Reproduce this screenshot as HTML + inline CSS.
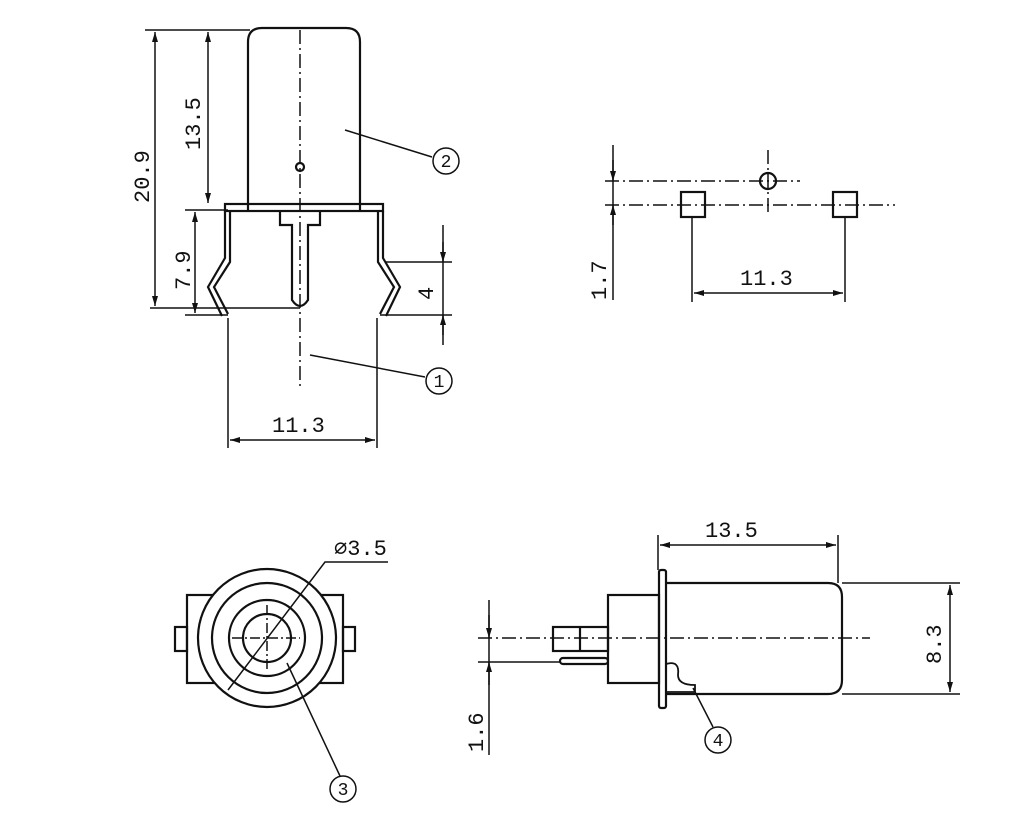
<!DOCTYPE html>
<html><head><style>body{margin:0;background:#fff}svg{display:block}text{font-family:"Liberation Mono","DejaVu Sans Mono",monospace;fill:#111}</style></head>
<body>
<svg width="1024" height="827" viewBox="0 0 1024 827" xmlns="http://www.w3.org/2000/svg">
<defs><marker id="a" markerWidth="10" markerHeight="6" refX="10" refY="3" orient="auto-start-reverse" markerUnits="userSpaceOnUse"><path d="M0,0 L10,3 L0,6z" fill="#111"/></marker></defs>
<g stroke="#111" stroke-width="1.5" fill="none">
<!-- top-left view -->
<path d="M248,210 V42 Q248,28 262,28 H346 Q360,28 360,42 V210" stroke-width="2.2"/>
<rect x="225" y="204" width="158" height="7" stroke-width="2.2"/>
<path d="M230,211 V262 L214,287 L228,314 M225,211 V258 L208,287 L222,316" stroke-width="2.2"/>
<path d="M378,211 V262 L394,287 L380,314 M383,211 V258 L400,287 L386,316" stroke-width="2.2"/>
<path d="M280,211 V225 H292 V300 Q300,312 308,300 V225 H320 V211" stroke-width="2.2"/>
<circle cx="300" cy="167" r="4" stroke-width="2.2"/>
<path d="M300,30 V390" stroke-dasharray="14,4,2,4"/>
<path d="M145,30 H250 M150,308 H300 M185,210 H228 M185,315 H228 M385,262 H452 M380,315 H452"/>
<path d="M155,32 V306" marker-start="url(#a)" marker-end="url(#a)"/>
<path d="M208,32 V203" marker-start="url(#a)" marker-end="url(#a)"/>
<path d="M195,212 V313" marker-start="url(#a)" marker-end="url(#a)"/>
<path d="M443,225 V262 M443,315 V345"/>
<path d="M443,242 V262" marker-end="url(#a)"/><path d="M443,335 V315" marker-end="url(#a)"/>
<path d="M443,262 V315"/>
<path d="M228,318 V448 M377,318 V448"/>
<path d="M230,440 H375" marker-start="url(#a)" marker-end="url(#a)"/>
<path d="M345,130 L432,157 M310,355 L425,377"/>
<circle cx="446" cy="161" r="13"/><circle cx="439" cy="381" r="13"/>
<!-- top-right view -->
<path d="M605,205 H895 M605,181 H800" stroke-dasharray="14,4,2,4"/>
<path d="M768,150 V215" stroke-dasharray="14,4,2,4"/>
<circle cx="768" cy="181" r="8" stroke-width="2.2"/>
<rect x="681" y="192" width="24" height="25" stroke-width="2.2"/>
<rect x="833" y="192" width="24" height="25" stroke-width="2.2"/>
<path d="M692,217 V302 M845,217 V302 M613,145 V300"/>
<path d="M613,160 V181" marker-end="url(#a)"/><path d="M613,225 V205" marker-end="url(#a)"/>
<path d="M694,293 H843" marker-start="url(#a)" marker-end="url(#a)"/>
<!-- bottom-left view -->
<rect x="187" y="595" width="156" height="88" stroke-width="2.2" fill="#fff"/>
<rect x="175" y="627" width="12" height="24" stroke-width="2.2"/>
<rect x="343" y="627" width="12" height="24" stroke-width="2.2"/>
<circle cx="267" cy="638" r="69" stroke-width="2.2" fill="#fff"/>
<circle cx="267" cy="638" r="55" stroke-width="2.2"/>
<circle cx="267" cy="638" r="38" stroke-width="2.2"/>
<circle cx="267" cy="638" r="24" stroke-width="2.2"/>
<path d="M232,638 H300 M267,605 V672" stroke-dasharray="10,3,2,3"/>
<path d="M228,690 L325,562 H388"/>
<path d="M287,663 L340,776"/>
<circle cx="343" cy="789" r="13"/>
<!-- bottom-right view -->
<path d="M665,583 H828 Q842,583 842,597 V680 Q842,694 828,694 H665" stroke-width="2.2"/>
<rect x="659" y="570" width="7" height="138" rx="2" stroke-width="2.2"/>
<rect x="608" y="595" width="51" height="88" stroke-width="2.2"/>
<rect x="553" y="627" width="55" height="24" stroke-width="2.2"/>
<path d="M580,627 V651" stroke-width="2.2"/>
<rect x="560" y="658" width="48" height="6" rx="3" stroke-width="2.2"/>
<path d="M666,664 Q680,660 678,675 Q678,685 695,685 V692 H666" stroke-width="1.8"/>
<path d="M478,638 H870" stroke-dasharray="14,4,2,4"/>
<path d="M478,662 H560"/>
<path d="M489,600 V755"/>
<path d="M489,615 V638" marker-end="url(#a)"/><path d="M489,685 V662" marker-end="url(#a)"/>
<path d="M658,535 V570 M838,535 V583 M842,583 H960 M842,694 H960"/>
<path d="M660,545 H836" marker-start="url(#a)" marker-end="url(#a)"/>
<path d="M950,585 V692" marker-start="url(#a)" marker-end="url(#a)"/>
<path d="M693,688 L713,727"/>
<circle cx="718" cy="740" r="13"/>
</g>
<g font-size="22">
<text x="0" y="0" transform="translate(149,203) rotate(-90)">20.9</text>
<text x="0" y="0" transform="translate(200,150) rotate(-90)">13.5</text>
<text x="0" y="0" transform="translate(190,290) rotate(-90)">7.9</text>
<text x="0" y="0" transform="translate(433,300) rotate(-90)" fill="#663">4</text>
<text x="272" y="432">11.3</text>
<text x="0" y="0" transform="translate(606,300) rotate(-90)">1.7</text>
<text x="740" y="285">11.3</text>
<text x="334" y="555">⌀3.5</text>
<text x="705" y="537">13.5</text>
<text x="0" y="0" transform="translate(941,664) rotate(-90)">8.3</text>
<text x="0" y="0" transform="translate(483,752) rotate(-90)">1.6</text>
</g>
<g font-size="18" text-anchor="middle" font-family="Liberation Sans,sans-serif">
<text x="446" y="167">2</text><text x="439" y="387">1</text><text x="343" y="795">3</text><text x="718" y="746">4</text>
</g>
</svg>
</body></html>
